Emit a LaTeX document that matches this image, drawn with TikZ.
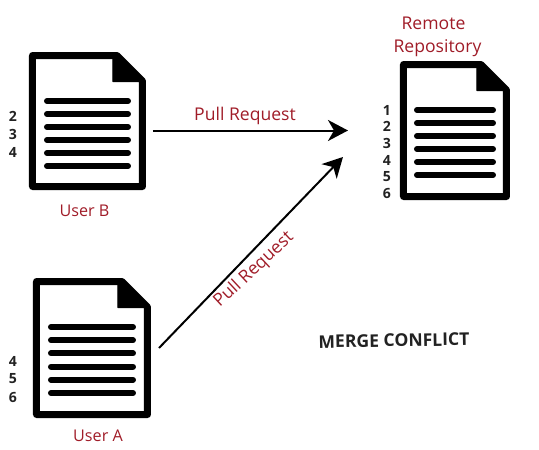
\documentclass[tikz,border=0pt]{standalone}
\usepackage{fontspec}
\setmainfont{Open Sans}
\usetikzlibrary{arrows.meta}
\definecolor{lbl}{HTML}{A01C28}
\definecolor{num}{HTML}{222222}
\tikzset{
 x=0.02cm,y=-0.02cm,
 docbody/.style={draw=black,fill=white,line width=7*0.02cm,line join=round},
 docfold/.style={fill=black,draw=black,line width=1*0.02cm,line join=round},
 docline/.style={line width=6*0.02cm,line cap=round,black},
 label/.style={text=lbl,font=\fontsize{10pt}{12pt}\selectfont,inner sep=0pt,align=center},
 userlabel/.style={label,font=\fontsize{9.2pt}{12pt}\selectfont},
 numlbl/.style={text=num,font=\fontsize{8pt}{9pt}\selectfont\bfseries,inner sep=0pt},
 conn/.style={line width=2*0.02cm,black,-{Stealth[length=20*0.02cm,width=21*0.02cm,inset=6*0.02cm]}},
 box/.style={inner sep=0pt,minimum width=#1*0.02cm,minimum height=139*0.02cm},
}
% #1 left, #2 top, #3 right, #4 bottom (outer edge)
\newcommand{\docdraw}[4]{%
 \draw[docbody] (#1+3.5,#2+3.5) -- (#3-29,#2+3.5) -- (#3-3.5,#2+29) -- (#3-3.5,#4-3.5) -- (#1+3.5,#4-3.5) -- cycle;
 \fill[docfold,draw=black] (#3-30,#2+3) -- (#3-3,#2+29) -- (#3-3,#2+29.5) -- (#3-33,#2+29.5) -- (#3-33,#2+3) -- cycle;
}
\newcommand{\doclines}[4]{% #1 left #2 right #3 first y #4 step
 \foreach \i in {0,...,5} \draw[docline] (#1,#3+\i*#4) -- (#2,#3+\i*#4);
}
\begin{document}
\begin{tikzpicture}
\useasboundingbox (0,0) rectangle (539,450);
\docdraw{29}{52}{146}{190}
\doclines{47}{128}{101}{13}
\docdraw{33}{278}{151}{418}
\doclines{51}{133}{327}{13.2}
\docdraw{400}{61}{510}{200}
\doclines{417}{493}{110}{13}

\node[box=117] (userB) at (87.5,121) {};
\node[box=118] (userA) at (92,348) {};
\node[box=110] (remote) at (455,130.5) {};

\foreach \n/\y in {2/116,3/134,4/152} \node[numlbl] (bn\n) at (13,\y) {\n};
\foreach \n/\y in {4/361,5/379,6/397} \node[numlbl] (an\n) at (13,\y) {\n};
\foreach \n/\y in {1/110,2/126,3/143,4/160,5/177,6/193} \node[numlbl] (rn\n) at (387,\y) {\n};

\node[userlabel] (lb) at (84.5,211) {User B};
\node[userlabel] (la) at (98,436) {User A};
\node[label] (lr) at (433.5,23.5) {Remote};
\node[label] (lr2) at (437.5,48) {Repository};
\node[label] (prb) at (245,115.5) {Pull Request};
\node[label,rotate=43] (pra) at (254,270) {Pull Request};
\node[inner sep=0pt,rotate=1,font=\fontsize{10pt}{12pt}\selectfont\bfseries,text=num] (mc) at (394,340.5) {MERGE CONFLICT};

\coordinate (bs) at (153,130.5);
\coordinate (be) at (348,130.5);
\coordinate (as) at (159,348);
\coordinate (ae) at (343,157);
\draw[conn] (bs) -- (be);
\draw[conn] (as) -- (ae);
\end{tikzpicture}
\end{document}
